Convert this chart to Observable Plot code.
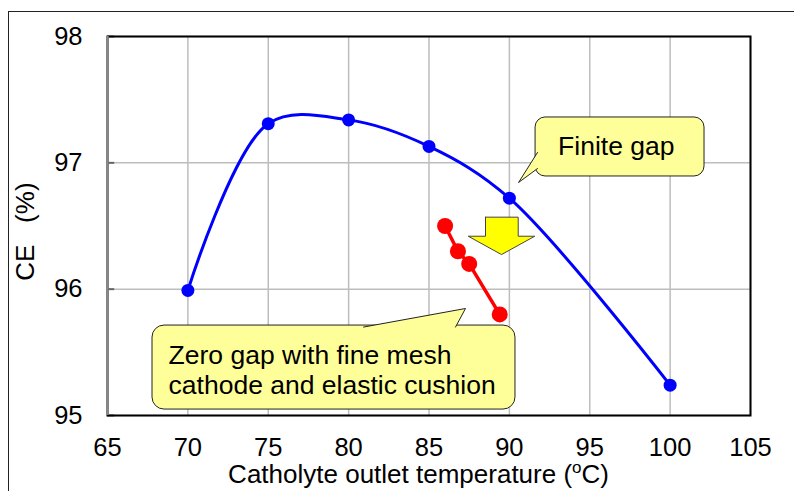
<!DOCTYPE html>
<html><head><meta charset="utf-8">
<script src="https://cdn.jsdelivr.net/npm/d3@7"></script>
<script src="https://cdn.jsdelivr.net/npm/@observablehq/plot@0.6"></script>
<style>
body{margin:0;background:#fff}
#wrap{position:relative;width:794px;height:491px;overflow:hidden}
#border{position:absolute;left:8px;top:11px;right:-10px;bottom:-10px;border-left:1.5px solid #222;border-top:1.5px solid #222;pointer-events:none}
</style>
</head><body>
<div id="wrap"><div id="chart"></div><div id="border"></div></div>
<script>
// Finite gap series
const finiteT = [70, 75, 80, 85, 90, 100];
const finiteCE = [95.99, 97.31, 97.34, 97.13, 96.72, 95.24];
// Zero gap series
const zeroT = [86.0, 86.8, 87.5, 89.4];
const zeroCE = [96.5, 96.3, 96.2, 95.8];
// Ticks
const xTicks = [65, 70, 75, 80, 85, 90, 95, 100, 105];
const yTicks = [95, 96, 97, 98];
// Texts
const xLabelPre = "Catholyte outlet temperature (";
const xLabelSup = "o";
const xLabelPost = "C)";
const yLabel = "CE\u00a0\u00a0\u00a0(%)";
const finiteText = "Finite gap";
const zeroText = "Zero gap with fine mesh\ncathode and elastic cushion";
// Annotation geometry (data units)
const finiteBox = [{x1: 91.63, x2: 102.14, y1: 96.892, y2: 97.359}];
const finiteTail = [[91.75, 97.082], [90.57, 96.844], [91.75, 96.955]];
const zeroBox = [{x1: 67.8, x2: 90.38, y1: 95.047, y2: 95.712}];
const zeroTail = [[80.93, 95.70], [87.27, 95.847], [86.65, 95.70]];
const arrowPts = [[88.515, 96.570], [90.55, 96.570], [90.55, 96.419], [91.58, 96.419], [89.51, 96.274], [87.44, 96.419], [88.515, 96.419], [88.515, 96.570]];

const finite = finiteT.map((t, i) => ({t, ce: finiteCE[i]}));
const zero = zeroT.map((t, i) => ({t, ce: zeroCE[i]}));
const font = "'Liberation Sans', Arial, Helvetica, sans-serif";
const yellow = "#ffff99";

const chart = Plot.plot({
  width: 794, height: 491,
  marginLeft: 107, marginRight: 44, marginTop: 36, marginBottom: 76,
  style: {fontFamily: font, fontSize: "25.5px", background: "white", color: "#000", overflow: "visible"},
  x: {domain: [65, 105]},
  y: {domain: [95, 98]},
  marks: [
    Plot.gridX(xTicks, {stroke: "#bdbdbd", strokeOpacity: 1, strokeWidth: 1.5}),
    Plot.gridY(yTicks, {stroke: "#bdbdbd", strokeOpacity: 1, strokeWidth: 1.5}),
    Plot.ruleY(yTicks, {x1: 65, x2: 65.45, stroke: "#666", strokeWidth: 2}),
    Plot.frame({stroke: "#000", strokeWidth: 2}),
    Plot.ruleX([65], {stroke: "#888", strokeWidth: 2.5}),
    Plot.axisX({ticks: xTicks, tickSize: 0, tickPadding: 22, tickFormat: d3.format("d"), label: null}),
    Plot.axisY({ticks: yTicks, tickSize: 0, tickPadding: 25, tickFormat: d3.format("d"), label: null}),
    Plot.line(finite, {x: "t", y: "ce", stroke: "#0000ff", strokeWidth: 3, curve: "catmull-rom"}),
    Plot.dot(finite, {x: "t", y: "ce", r: 6.5, fill: "#0000ff"}),
    Plot.line(zero, {x: "t", y: "ce", stroke: "#ff0000", strokeWidth: 3.5}),
    Plot.dot(zero, {x: "t", y: "ce", r: 8, fill: "#ff0000"}),
    Plot.line(arrowPts, {x: d => d[0], y: d => d[1], fill: "#ffff00", stroke: "#444", strokeWidth: 1}),
    Plot.rect(finiteBox, {x1: "x1", x2: "x2", y1: "y1", y2: "y2", fill: yellow, stroke: "#222", strokeWidth: 1, rx: 10}),
    Plot.line(finiteTail, {x: d => d[0], y: d => d[1], fill: yellow, stroke: "#222", strokeWidth: 1}),
    Plot.rect(zeroBox, {x1: "x1", x2: "x2", y1: "y1", y2: "y2", fill: yellow, stroke: "#222", strokeWidth: 1, rx: 12}),
    Plot.line(zeroTail, {x: d => d[0], y: d => d[1], fill: yellow, stroke: "#222", strokeWidth: 1}),
    Plot.text([finiteText], {x: 96.65, y: 97.13, text: d => d, textAnchor: "middle", fontSize: 26.5, fill: "#000"}),
    Plot.text([zeroText], {x: 68.8, y: 95.364, text: d => d, textAnchor: "start", lineHeight: 1.15, fontSize: 26.5, fill: "#000"}),
    Plot.text([yLabel], {x: 59.9, y: 96.456, text: d => d, rotate: -90, fontSize: 26, fill: "#000"}),
    Plot.text([xLabelPre + xLabelSup + xLabelPost], {x: 84.35, y: 94.53, text: d => d, fontSize: 26, fill: "#000", className: "xlabel"})
  ]
});
document.getElementById("chart").appendChild(chart);

// superscript in the x-axis title
const t = d3.select(chart).select(".xlabel text");
t.text(null);
t.append("tspan").text(xLabelPre);
t.append("tspan").attr("font-size", "17px").attr("dy", "-10").text(xLabelSup);
t.append("tspan").attr("dy", "10").text(xLabelPost);
</script>
</body></html>
